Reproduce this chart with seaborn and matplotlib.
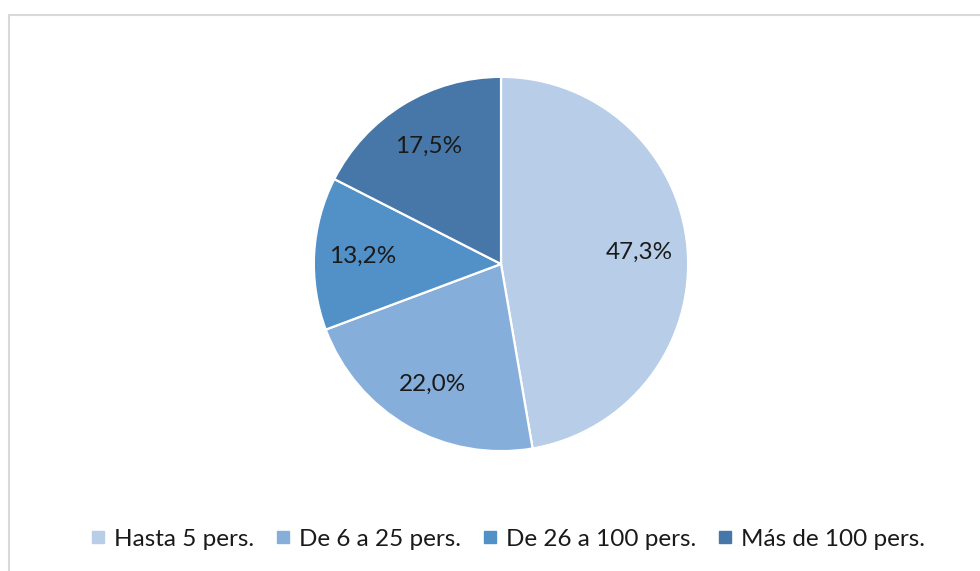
import matplotlib
matplotlib.use("Agg")
import matplotlib.pyplot as plt
import seaborn as sns
from matplotlib.patches import Rectangle
from matplotlib.lines import Line2D

categories = ["Hasta 5 pers.", "De 6 a 25 pers.", "De 26 a 100 pers.", "Más de 100 pers."]
values = [47.3, 22.0, 13.2, 17.5]
colors = ["#B8CDE8", "#86AEDB", "#5290C8", "#4677A8"]

sns.set_theme(style="white")
plt.rcParams["font.family"] = ["Lato", "DejaVu Sans"]

fig = plt.figure(figsize=(9.8, 5.71), dpi=100)
fig.patch.set_facecolor("white")

# chart frame
fig.patches.append(Rectangle((9 / 980, -0.05), 1.2, 1.05 - 15 / 571,
                             transform=fig.transFigure, fill=False,
                             edgecolor="#D9D9D9", linewidth=1.5, zorder=0))

ax = fig.add_axes([312 / 980, (571 - 453) / 571, 378 / 980, 378 / 571])
wedges, texts, autotexts = ax.pie(
    values, colors=colors, startangle=90, counterclock=False,
    autopct=lambda p: f"{p:.1f}".replace(".", ",") + "%",
    pctdistance=0.74, radius=1.0,
    wedgeprops=dict(edgecolor="white", linewidth=1.6),
    textprops=dict(fontsize=17.5, color="#1a1a1a"))
ax.set_xlim(-1.01, 1.01)
ax.set_ylim(-1.01, 1.01)
ax.set_aspect("equal")
ax.axis("off")

handles = [Line2D([0], [0], marker="s", linestyle="none", markersize=9,
                  markerfacecolor=c, markeredgecolor=c) for c in colors]
fig.legend(handles, categories, loc="center", bbox_to_anchor=(508 / 980, 1 - 539 / 571),
           ncol=4, frameon=False, fontsize=17.5, handlelength=0.6, handletextpad=0.35,
           columnspacing=0.9, labelcolor="#1a1a1a")

fig.savefig("out.png", dpi=100, facecolor="white")
